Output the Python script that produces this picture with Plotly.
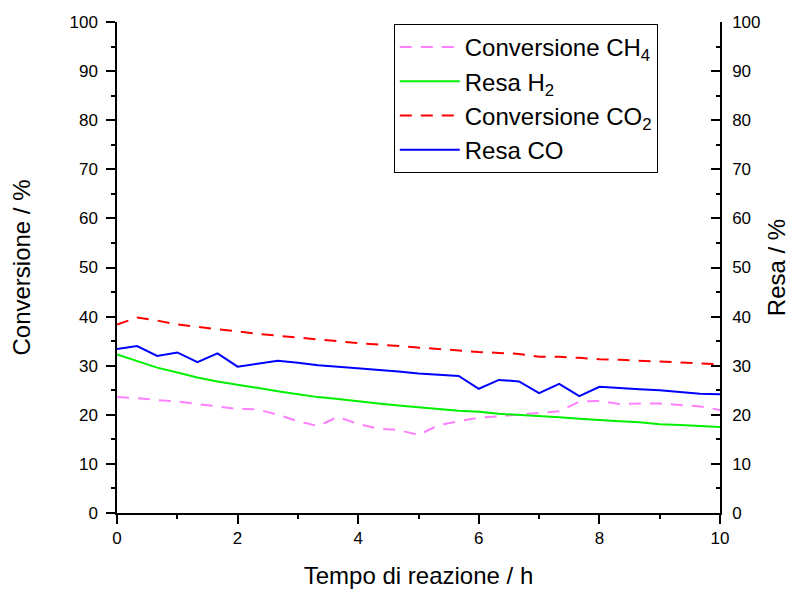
import plotly.graph_objects as go

time_h = [i / 3 for i in range(31)]

conv_ch4 = [23.6, 23.4, 23.0, 22.7, 22.2, 21.7, 21.2, 21.1, 20.0, 18.7, 17.7,
            19.6, 18.1, 17.2, 16.9, 15.9, 17.9, 18.7, 19.4, 19.7, 20.1, 20.4,
            20.7, 22.7, 22.8, 22.2, 22.3, 22.3, 22.0, 21.7, 21.0]
resa_h2 = [32.3, 31.0, 29.6, 28.6, 27.6, 26.8, 26.1, 25.4, 24.8, 24.2, 23.6,
           23.2, 22.7, 22.3, 21.9, 21.6, 21.2, 20.8, 20.6, 20.2, 20.0, 19.8,
           19.5, 19.2, 18.9, 18.7, 18.5, 18.1, 17.9, 17.7, 17.5]
conv_co2 = [38.4, 39.8, 39.2, 38.4, 37.9, 37.4, 36.9, 36.5, 36.1, 35.7, 35.3,
            35.0, 34.6, 34.3, 34.0, 33.7, 33.4, 33.0, 32.8, 32.6, 32.4, 31.8,
            31.8, 31.6, 31.3, 31.2, 31.0, 30.8, 30.6, 30.5, 30.3]
resa_co = [33.4, 34.0, 32.0, 32.7, 30.7, 32.5, 29.8, 30.4, 31.0, 30.6, 30.1,
           29.8, 29.5, 29.1, 28.8, 28.4, 28.2, 27.9, 25.3, 27.1, 26.8, 24.4,
           26.3, 23.8, 25.7, 25.4, 25.2, 25.0, 24.7, 24.3, 24.2]

names = ["Conversione CH<sub>4</sub>", "Resa H<sub>2</sub>",
         "Conversione CO<sub>2</sub>", "Resa CO"]

FONT = "Liberation Sans"
DASH = "12px,9px"

fig = go.Figure()
fig.add_trace(go.Scatter(x=time_h, y=conv_ch4, mode="lines", name=names[0],
                         line=dict(color="#FF80FF", width=2, dash=DASH), yaxis="y"))
fig.add_trace(go.Scatter(x=time_h, y=resa_h2, mode="lines", name=names[1],
                         line=dict(color="#00F000", width=2), yaxis="y2"))
fig.add_trace(go.Scatter(x=time_h, y=conv_co2, mode="lines", name=names[2],
                         line=dict(color="#FF0000", width=2, dash=DASH), yaxis="y"))
fig.add_trace(go.Scatter(x=time_h, y=resa_co, mode="lines", name=names[3],
                         line=dict(color="#0000FF", width=2), yaxis="y2"))

axis_common = dict(showgrid=False, zeroline=False, showline=True, linecolor="black",
                   linewidth=1.5, tickcolor="black", tickwidth=1.5, automargin=False,
                   tickfont=dict(family=FONT, size=17, color="black"))

# page body has an 8px margin; figure is sized to fit the 795x592 window
fig.update_layout(
    width=787, height=584,
    margin=dict(l=109, r=75, t=14, b=79, autoexpand=False),
    paper_bgcolor="white", plot_bgcolor="white",
    font=dict(family=FONT, color="black"),
    xaxis=dict(range=[0, 10], dtick=2, ticks="outside", ticklen=9,
               minor=dict(dtick=1, ticks="outside", ticklen=4, tickcolor="black", tickwidth=1.5),
               title=dict(text="Tempo di reazione / h", font=dict(family=FONT, size=24), standoff=20),
               **axis_common),
    yaxis=dict(range=[0, 100], dtick=10, ticks="outside", ticklen=9,
               minor=dict(dtick=5, ticks="outside", ticklen=4, tickcolor="black", tickwidth=1.5),
               title=dict(text="Conversione / %", font=dict(family=FONT, size=24), standoff=38),
               ticklabelstandoff=5,
               **axis_common),
    yaxis2=dict(range=[0, 100], dtick=10, ticks="inside", ticklen=9, overlaying="y", side="right",
                minor=dict(dtick=5, ticks="inside", ticklen=4, tickcolor="black", tickwidth=1.5),
                title=dict(text="Resa / %", font=dict(family=FONT, size=24), standoff=9),
                ticklabelstandoff=7,
                **axis_common),
    legend=dict(x=0.459, y=0.996, xanchor="left", yanchor="top",
                bgcolor="white", bordercolor="black", borderwidth=1,
                font=dict(family=FONT, size=24, color="black"),
                itemwidth=60, tracegroupgap=0),
    showlegend=True,
)

fig.write_html("out.html")
